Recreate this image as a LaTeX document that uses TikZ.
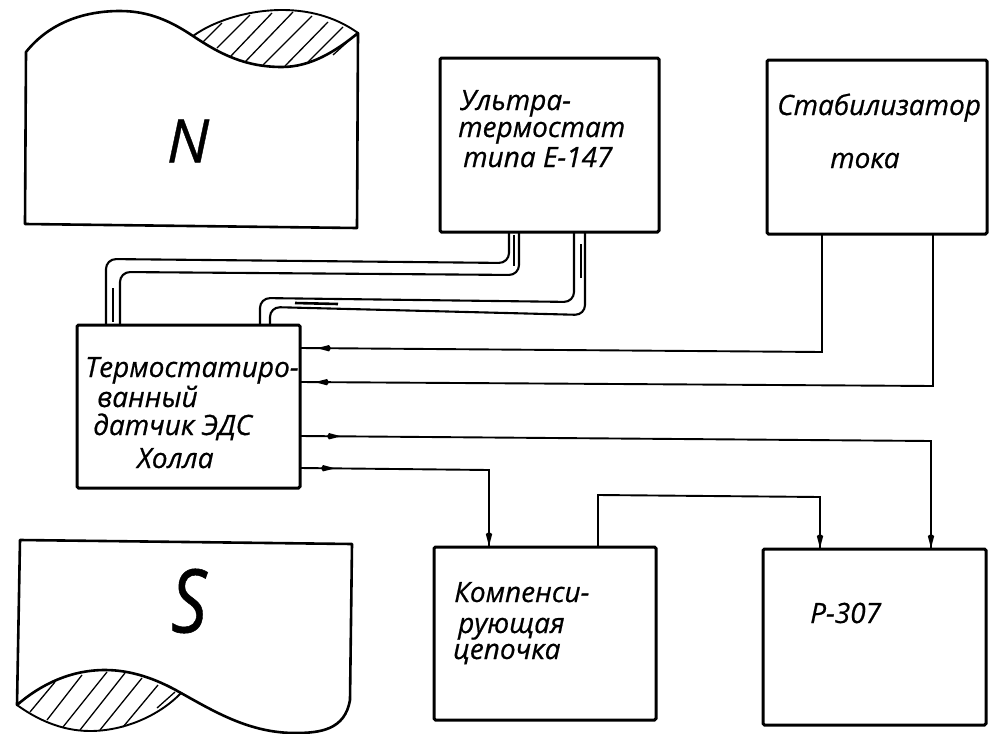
\documentclass[tikz,border=0pt]{standalone}
\usepackage{fontspec}
\setmainfont{Open Sans}[ItalicFeatures={FakeBold=0.6}]
\usetikzlibrary{decorations.markings}
\newcommand\arrowblob{\fill (3pt,0)--(-9pt,3.2pt)--(-11pt,0pt)--(-9pt,-3.2pt)--cycle;}
\tikzset{
 x=1pt,y=-1pt,
 box/.style={draw,line width=3pt,rectangle,rounded corners=1.5pt,inner sep=0pt,outer sep=0pt,anchor=north west},
 wire/.style={line width=1.9pt},
 wall/.style={line width=2.1pt,rounded corners=10pt},
 mag/.style={line width=2.6pt},
 hatchline/.style={line width=1.3pt},
 tipone/.style={postaction={decorate},decoration={markings,mark=at position #1 with {\arrowblob}}},
 tiptwo/.style 2 args={postaction={decorate},decoration={markings,mark=at position #1 with {\arrowblob},mark=at position #2 with {\arrowblob}}},
 lab/.style={font=\fontsize{28}{30}\selectfont\itshape,inner sep=0pt,anchor=base west},
 tubemark/.style={line width=2.6pt},
}
\begin{document}
\begin{tikzpicture}
\useasboundingbox (0,0) rectangle (989,734);
\fill[white] (0,0) rectangle (989,734);
% N
\draw[mag,line join=round] (26,52) .. controls (50,22) and (85,11) .. (120,11) .. controls (150,11) and (172,22) .. (193,36) .. controls (220,54) and (245,67) .. (282,67) .. controls (310,67) and (335,52) .. (358,33) -- (357,228) -- (25,224) -- cycle;
\draw[line width=1.9pt] (193,36) .. controls (215,20) and (250,10) .. (282,10) .. controls (315,10) and (340,20) .. (358,33);
\foreach \xa/\ya/\xb/\yb in {203/42/222/23, 217/48/250/15, 230/57/272/13, 245/62/293/12, 263/65/312/16, 285/66/328/22, 308/62/343/27, 333/55/355/35}
  \draw[hatchline] (\xa,\ya) -- (\xb,\yb);
\node[font=\fontsize{60}{60}\selectfont\itshape,anchor=center,inner sep=0pt] (nlab) at (188,141) {N};
% S
\draw[mag,line join=round] (20,540) -- (352,544) -- (350,700) .. controls (345,730) and (320,733) .. (295,733) .. controls (250,733) and (215,712) .. (181,693) .. controls (155,678) and (130,670) .. (105,670) .. controls (70,670) and (40,685) .. (17,705) -- cycle;
\draw[line width=1.9pt] (181,693) .. controls (160,715) and (125,731) .. (90,731) .. controls (60,731) and (35,718) .. (17,705);
\foreach \xa/\ya/\xb/\yb in {30/712/55/682, 47/720/82/675, 63/727/107/672, 80/730/125/673, 100/730/142/678, 123/727/158/685, 157/708/175/692}
  \draw[hatchline] (\xa,\ya) -- (\xb,\yb);
\node[font=\fontsize{88}{88}\selectfont\itshape,anchor=center,inner sep=0pt,xscale=.8] (slab) at (189,601) {S};
% boxes
\node[box,minimum width=219pt,minimum height=174pt] (ultra) at (440,58) {};
\node[box,minimum width=220pt,minimum height=174pt] (stab) at (767,60) {};
\node[box,minimum width=223pt,minimum height=163pt] (therm) at (77,325) {};
\node[box,minimum width=222pt,minimum height=173pt] (comp) at (434,547) {};
\node[box,minimum width=223pt,minimum height=176pt] (prec) at (763,549) {};
% labels
\node[lab] (t1) at (460,110) {Ультра-};
\node[lab] (t2) at (458,137) {термостат};
\node[lab] (t3) at (463,167) {типа Е-147};
\node[lab] (t4) at (777,115) {Стабилизатор};
\node[lab] (t5) at (830,168) {тока};
\node[lab] (t6) at (85,377) {Термостатиро-};
\node[lab] (t7) at (97,407) {ванный};
\node[lab] (t8) at (93,435) {датчик  ЭДС};
\node[lab] (t9) at (137,468) {Холла};
\node[lab] (t10) at (454,602) {Компенси-};
\node[lab] (t11) at (458,633) {рующая};
\node[lab] (t12) at (453,659) {цепочка};
\node[lab] (t13) at (810,623) {Р-307};
% tube 1
\coordinate (a1) at (509,233); \coordinate (a2) at (519,233);
\coordinate (b1) at (106,324); \coordinate (b2) at (120,324);
\draw[wall] (a1) -- (509,263) -- (106,259) -- (b1);
\draw[wall] (a2) -- (519,275) -- (120,272) -- (b2);
\draw[tubemark] (514,235) -- (514,266);
\draw[tubemark] (113,288) -- (113,322);
% tube 2
\coordinate (c1) at (574,233); \coordinate (c2) at (585,233);
\coordinate (d1) at (260,324); \coordinate (d2) at (270,324);
\draw[wall] (c1) -- (574,302) -- (260,298) -- (d1);
\draw[wall] (c2) -- (585,315) -- (270,307) -- (d2);
\draw[tubemark] (581,244) -- (581,278);
\draw[tubemark] (295,303) -- (338,304);
% wires
\coordinate (s1) at (822,234); \coordinate (s2) at (933,234);
\coordinate (i1) at (300,348); \coordinate (i2) at (300,382);
\coordinate (o1) at (300,436); \coordinate (o2) at (300,468);
\coordinate (e1) at (489,547); \coordinate (c3) at (598,547);
\coordinate (e2) at (820,549); \coordinate (e3) at (931,549);
\draw[wire,tipone=-20pt] (s1) -- (822,352) -- (i1);
\draw[wire,tipone=-18pt] (s2) -- (933,386) -- (i2);
\draw[wire,tiptwo={38pt}{-4pt}] (o1) -- (931,441) -- (e3);
\draw[wire,tiptwo={32pt}{-4pt}] (o2) -- (489,470) -- (e1);
\draw[wire,tipone=-4pt] (c3) -- (598,495) -- (820,497) -- (e2);
\end{tikzpicture}
\end{document}
